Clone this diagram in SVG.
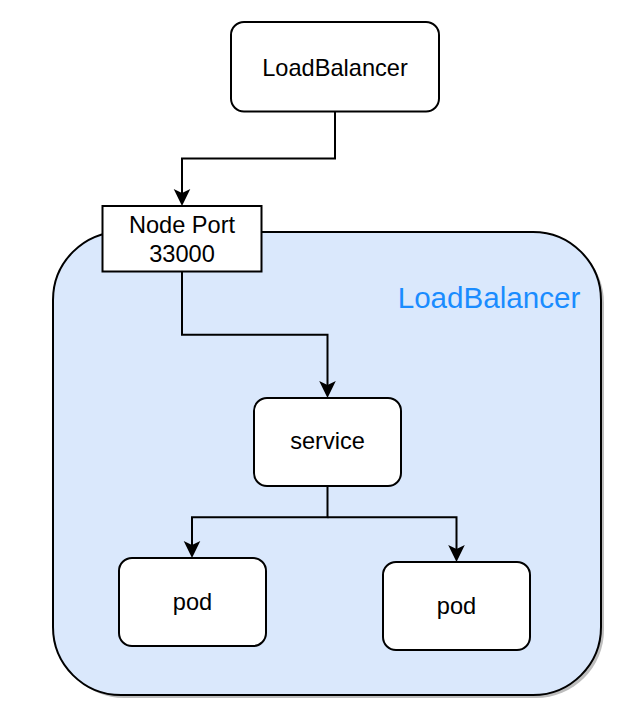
<svg xmlns="http://www.w3.org/2000/svg" width="630" height="712" viewBox="0 0 630 712">
<defs>
<style>
.box{fill:#ffffff;stroke:#000000;stroke-width:2}
.lbl{font-family:"Liberation Sans",Arial,Helvetica,sans-serif;font-size:23.6px;fill:#000000;text-anchor:middle}
.edge{fill:none;stroke:#000000;stroke-width:2}
</style>
<marker id="arr" viewBox="-8 -9 19 18" refX="0" refY="0" markerWidth="19" markerHeight="18" markerUnits="userSpaceOnUse" orient="auto">
<path d="M10,0 L-7,-8.3 L-3,0 L-7,8.3 Z" fill="#000000"/>
</marker>
</defs>
<rect width="630" height="712" fill="#ffffff"/>
<g id="cluster">
<rect x="56" y="235" width="548" height="463" rx="68" ry="68" fill="#bdbdbd"/>
<rect x="53" y="232" width="548" height="463" rx="68" ry="68" fill="#dae8fc" stroke="#000000" stroke-width="2"/>
<text x="489" y="308" font-family="'Liberation Sans',Arial,Helvetica,sans-serif" font-size="29.6px" fill="#1a8cff" text-anchor="middle">LoadBalancer</text>
</g>
<g id="loadbalancer">
<rect class="box" x="231" y="22" width="208" height="89.5" rx="13" ry="13"/>
<text class="lbl" x="335" y="76">LoadBalancer</text>
</g>
<g id="nodeport">
<rect class="box" x="102.5" y="206" width="159" height="65.5"/>
<text class="lbl" x="182" y="232.5">Node Port</text>
<text class="lbl" x="182" y="261.5">33000</text>
</g>
<g id="service">
<rect class="box" x="254" y="398" width="147" height="88" rx="13" ry="13"/>
<text class="lbl" x="327.5" y="449">service</text>
</g>
<g id="pod1">
<rect class="box" x="119" y="558" width="147" height="88" rx="13" ry="13"/>
<text class="lbl" x="192.5" y="609.5">pod</text>
</g>
<g id="pod2">
<rect class="box" x="383" y="562" width="147" height="88" rx="13" ry="13"/>
<text class="lbl" x="456.5" y="613.5">pod</text>
</g>
<g id="connectors">
<path class="edge" d="M335,111.5 V158.5 H182 V196" marker-end="url(#arr)"/>
<path class="edge" d="M182,271.5 V334.7 H327.5 V388" marker-end="url(#arr)"/>
<path class="edge" d="M327.5,486 V517.3 H192 V548" marker-end="url(#arr)"/>
<path class="edge" d="M327.5,517.3 H456.5 V552" marker-end="url(#arr)"/>
</g>
</svg>
